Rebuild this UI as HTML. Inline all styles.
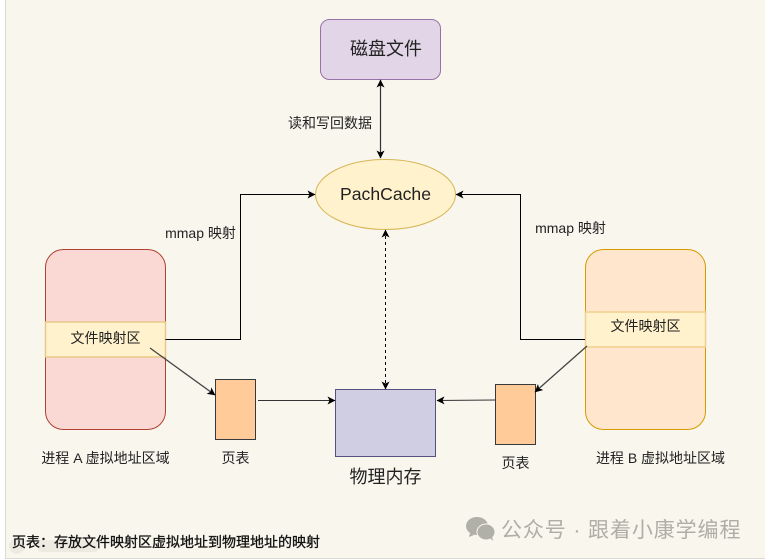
<!DOCTYPE html>
<html><head><meta charset="utf-8"><style>
html,body{margin:0;padding:0;width:765px;height:560px;overflow:hidden;background:#fff}
svg{display:block}
text{font-family:"Liberation Sans","Noto Sans CJK SC",sans-serif;fill:#222}
</style></head><body>
<svg width="765" height="560" viewBox="0 0 765 560" xmlns="http://www.w3.org/2000/svg">
<defs>
<marker id="a" markerWidth="10" markerHeight="10" refX="7.5" refY="4" orient="auto-start-reverse" markerUnits="userSpaceOnUse"><path d="M0 0L8 4L0 8L2 4Z" fill="#000"/></marker>
</defs>
<rect width="765" height="560" fill="#fff"/>
<rect x="5" y="0" width="760" height="558" fill="#f9f6ee"/>
<path d="M5.5 0V558.5H765" fill="none" stroke="#dcdad4"/>

<rect x="320.5" y="19.5" width="120" height="60" rx="9" fill="#e1d5e7" stroke="#9673a6"/>
<text x="386" y="55" font-size="18" text-anchor="middle">磁盘文件</text>

<ellipse cx="385.5" cy="194.5" rx="70" ry="35" fill="#fff2cc" stroke="#d6b656"/>
<text x="385.5" y="200" font-size="17.6" text-anchor="middle">PachCache</text>

<rect x="45.5" y="249.5" width="120" height="180" rx="18" fill="#fad9d5" stroke="#ae4132"/>
<rect x="45.5" y="322" width="120" height="35" fill="#fff2cc" stroke="#e6c98a" stroke-width="1.5"/>
<text x="105.5" y="343" font-size="14" text-anchor="middle">文件映射区</text>

<rect x="585.5" y="249.5" width="120" height="180" rx="18" fill="#ffe6cc" stroke="#d79b00"/>
<rect x="585.5" y="312" width="120" height="35" fill="#fff2cc" stroke="#eed08c" stroke-width="1.5"/>
<text x="645.5" y="331" font-size="14" text-anchor="middle">文件映射区</text>

<rect x="215.5" y="379.5" width="40" height="60" fill="#ffcc99" stroke="#36393d"/>
<rect x="495.5" y="384.5" width="40" height="60" fill="#ffcc99" stroke="#36393d"/>
<rect x="335.5" y="389.5" width="100" height="67" fill="#d0cee2" stroke="#56517e"/>

<g fill="none" stroke="#000" stroke-width="1">
<path d="M380.5 80V158" stroke="#333" stroke-width="1.2" marker-start="url(#a)" marker-end="url(#a)"/>
<path d="M165.5 339.500H240.500V194.500H315" marker-end="url(#a)"/>
<path d="M585 339.500H520.500V194.500H456" marker-end="url(#a)"/>
<path d="M385.500 230V389" stroke-dasharray="3 3" marker-start="url(#a)" marker-end="url(#a)"/>
<path d="M150 348L215 395" stroke="#444" stroke-width="1.3" marker-end="url(#a)"/>
<path d="M587 346L535 392" stroke="#444" stroke-width="1.3" marker-end="url(#a)"/>
<path d="M258 400.500L335 400.500" stroke="#333" marker-end="url(#a)"/>
<path d="M495 400L437 400.500" stroke="#333" marker-end="url(#a)"/>
</g>

<text x="330" y="128" font-size="14" text-anchor="middle">读和写回数据</text>
<text x="200.500" y="238" font-size="14" text-anchor="middle">mmap 映射</text>
<text x="570.500" y="233" font-size="14" text-anchor="middle">mmap 映射</text>
<text x="105.500" y="463" font-size="14" text-anchor="middle">进程 A 虚拟地址区域</text>
<text x="235.500" y="463" font-size="14" text-anchor="middle">页表</text>
<text x="515.500" y="468" font-size="14" text-anchor="middle">页表</text>
<text x="660.500" y="463" font-size="14" text-anchor="middle">进程 B 虚拟地址区域</text>
<text x="385.500" y="483" font-size="18" text-anchor="middle">物理内存</text>
<g fill="#e8e6de" opacity="0.7">
<circle cx="17" cy="546" r="8"/><rect x="38" y="540" width="60" height="12" rx="3"/>
</g>
<text x="12" y="547" font-size="14" style="fill:#111;stroke:#111;stroke-width:0.3">页表：存放文件映射区虚拟地址到物理地址的映射</text>

<g fill="#b0b0a8">
<ellipse cx="477" cy="526" rx="11" ry="9"/>
<path d="M470 533l-1 4 5-2z"/>
<ellipse cx="486" cy="532" rx="9" ry="8" stroke="#f9f6ee" stroke-width="1"/>
<path d="M490 538l3 3-1-5z"/>
</g>
<text x="501" y="537" font-size="21" style="fill:#aeaea6" letter-spacing="0.900">公众号 · 跟着小康学编程</text>
</svg>
</body></html>
